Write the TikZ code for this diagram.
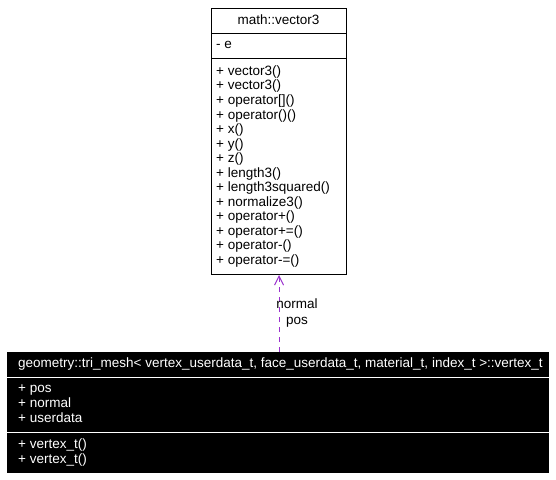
\documentclass[tikz,border=0pt]{standalone}
\usepackage{fontspec}
\setmainfont{Liberation Sans}
\usetikzlibrary{arrows.meta}
\definecolor{edgec}{HTML}{9A32CD}
\begin{document}
\begin{tikzpicture}[x=1pt,y=-1pt,font=\fontsize{13.5}{15}\selectfont,
  box/.style={draw=black,line width=1pt,fill=white,inner sep=0pt,anchor=north west},
  dbox/.style={draw=black,line width=1pt,fill=black,inner sep=0pt,anchor=north west},
  txt/.style={anchor=west,inner sep=0pt,text height=9.6pt,text depth=2.7pt},
  wtxt/.style={txt,text=white},
  lbl/.style={inner sep=0pt,text height=9.6pt,text depth=2.7pt}]
\useasboundingbox (0,0) rectangle (556,479);
% top class
\node[box,minimum width=135pt,minimum height=266pt] (vec) at (211,8) {};
\node[lbl] (vt) at (278.5,21) {math::vector3};
\draw[line width=1pt] (vec.west |- 0,33) -- (vec.east |- 0,33);
\node[txt] (va) at (216,45) {- e};
\draw[line width=1pt] (vec.west |- 0,58) -- (vec.east |- 0,58);
\foreach \t [count=\i from 0] in {+ vector3(),+ vector3(),+ operator[](),+ operator()(),+ x(),+ y(),+ z(),+ length3(),+ length3squared(),+ normalize3(),+ operator+(),+ operator+=(),+ operator-(),+ operator-=()}
  \node[txt] (vm\i) at (216,{72+\i*14.54}) {\t};
% bottom class
\node[dbox,minimum width=541pt,minimum height=120pt] (vtx) at (7,352) {};
\node[wtxt] (bt) at (18,364) {geometry::tri\_mesh< vertex\_userdata\_t, face\_userdata\_t, material\_t, index\_t >::vertex\_t};
\draw[white,line width=1pt] (vtx.west |- 0,377) -- (vtx.east |- 0,377);
\node[wtxt] (b1) at (18,389) {+ pos};
\node[wtxt] (b2) at (18,404) {+ normal};
\node[wtxt] (b3) at (18,419) {+ userdata};
\draw[white,line width=1pt] (vtx.west |- 0,432) -- (vtx.east |- 0,432);
\node[wtxt] (b4) at (18,445) {+ vertex\_t()};
\node[wtxt] (b5) at (18,460) {+ vertex\_t()};
% edge
\coordinate (s) at (279,352);
\coordinate (e) at (279,274);
\draw[edgec,line width=1pt,dash pattern=on 5pt off 5pt,-{Straight Barb[length=9pt,width=9pt]}] (vtx.north -| s) -- (vec.south -| e);
\node[lbl] (l1) at (297,305) {normal};
\node[lbl] (l2) at (297,321) {pos};
\end{tikzpicture}
\end{document}
